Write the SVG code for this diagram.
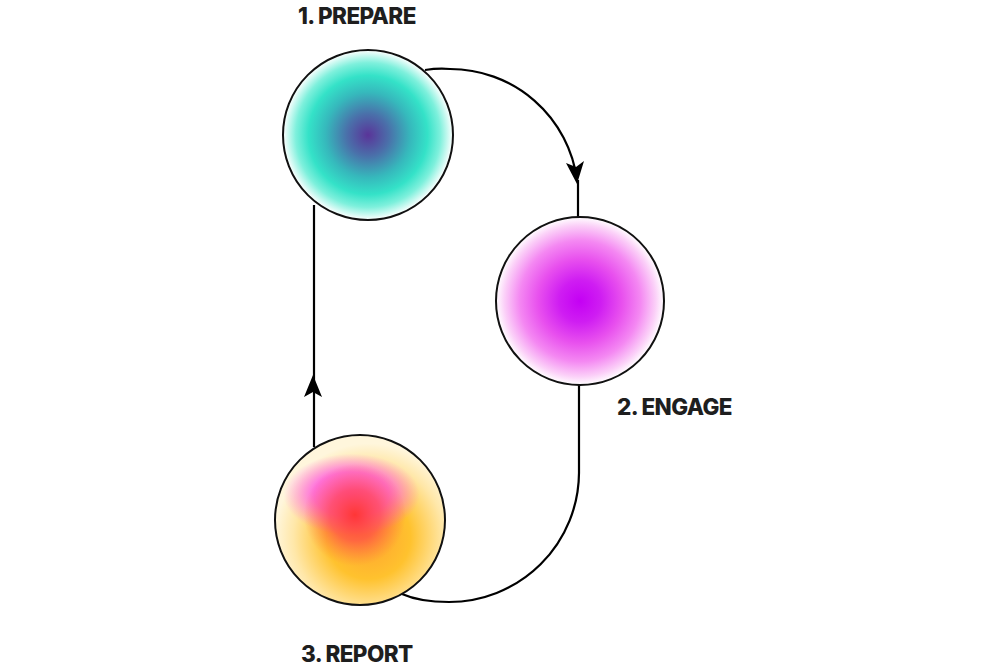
<svg xmlns="http://www.w3.org/2000/svg" width="1000" height="667" viewBox="0 0 1000 667">
<style>
.lbl{font-family:Inter,"Open Sans","Liberation Sans",sans-serif;font-weight:800;font-size:22.5px;fill:#1e1e1e;letter-spacing:-0.6px}
.edge{fill:none;stroke:#000;stroke-width:2.2}
.head{fill:#000}
.ring{fill:none;stroke:#111;stroke-width:2}
</style>
<defs>
<radialGradient id="g1" cx="0.5" cy="0.5" r="0.5">
<stop offset="0" stop-color="#5a3499"/>
<stop offset="0.25" stop-color="#4a70aa"/>
<stop offset="0.5" stop-color="#36b8bc"/>
<stop offset="0.7" stop-color="#34e2c8"/>
<stop offset="0.85" stop-color="#7ef0dc"/>
<stop offset="1" stop-color="#ffffff"/>
</radialGradient>
<radialGradient id="g2" cx="0.5" cy="0.5" r="0.5">
<stop offset="0" stop-color="#c400f4"/>
<stop offset="0.25" stop-color="#cf1df2"/>
<stop offset="0.5" stop-color="#e850ee"/>
<stop offset="0.72" stop-color="#f488f2"/>
<stop offset="0.9" stop-color="#fbd0f8"/>
<stop offset="1" stop-color="#ffffff"/>
</radialGradient>
<radialGradient id="g3a" cx="0.55" cy="0.6" r="0.55">
<stop offset="0" stop-color="#ffa030"/>
<stop offset="0.45" stop-color="#ffc22e"/>
<stop offset="0.8" stop-color="#ffe7a8"/>
<stop offset="1" stop-color="#fff6dc"/>
</radialGradient>
<radialGradient id="g3b" cx="0.45" cy="0.35" r="0.4" gradientTransform="translate(0.45 0.35) scale(1 0.6) translate(-0.45 -0.35)">
<stop offset="0" stop-color="#ff50f0"/>
<stop offset="0.55" stop-color="#ff5cee" stop-opacity="0.85"/>
<stop offset="1" stop-color="#ff66e8" stop-opacity="0"/>
</radialGradient>
<radialGradient id="g3c" cx="0.47" cy="0.47" r="0.3">
<stop offset="0" stop-color="#ff3636"/>
<stop offset="0.5" stop-color="#ff4848" stop-opacity="0.7"/>
<stop offset="1" stop-color="#ff6a40" stop-opacity="0"/>
</radialGradient>
</defs>
<g id="connectors">
<path class="edge" d="M425,70 Q438,68 450,69 A128 128 0 0 1 577,180"/>
<path class="edge" d="M578,180 V217"/>
<path class="head" d="M577,184 L584,161 L576,167 L566,163 Z"/>
<path class="edge" d="M579,385 V473 A130 130 0 0 1 449,602 Q420,602 402,594"/>
<path class="edge" d="M314,447 V205"/>
<path class="head" d="M313,375 L322,397 L313,392 L304,397 Z"/>
</g>
<g id="node1">
<circle cx="368" cy="135" r="85" fill="url(#g1)"/>
<circle class="ring" cx="368" cy="135" r="85"/>
<text class="lbl" x="298" y="24">1. PREPARE</text>
</g>
<g id="node2">
<circle cx="580" cy="301" r="84" fill="url(#g2)"/>
<circle class="ring" cx="580" cy="301" r="84"/>
<text class="lbl" x="617" y="415">2. ENGAGE</text>
</g>
<g id="node3">
<circle cx="360" cy="520" r="85" fill="url(#g3a)"/>
<circle cx="360" cy="520" r="85" fill="url(#g3b)"/>
<circle cx="360" cy="520" r="85" fill="url(#g3c)"/>
<circle class="ring" cx="360" cy="520" r="85"/>
<text class="lbl" x="301" y="662">3. REPORT</text>
</g>
</svg>
